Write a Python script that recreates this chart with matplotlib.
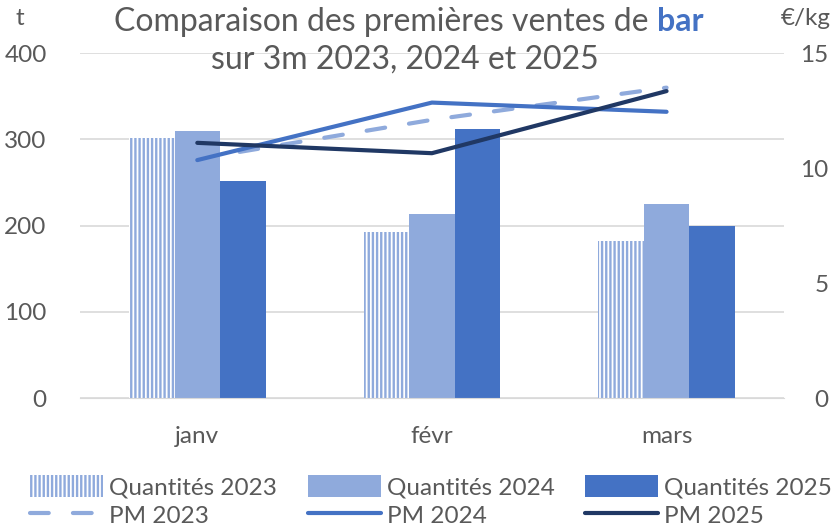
import matplotlib
matplotlib.use("Agg")
import matplotlib.pyplot as plt
import numpy as np

months = ["janv", "févr", "mars"]
q2023 = [302, 193, 182]
q2024 = [310, 213, 225]
q2025 = [252, 312, 200]
pm2023 = [10.4, 12.1, 13.5]
pm2024 = [10.35, 12.85, 12.45]
pm2025 = [11.1, 10.65, 13.35]
left_ticks = [0, 100, 200, 300, 400]
right_ticks = [0, 5, 10, 15]

plt.rcParams['font.family'] = ['Lato', 'DejaVu Sans']
plt.rcParams['hatch.linewidth'] = 1.7
GRAY = '#595959'
C23 = '#8FAADC'
C24 = '#8FAADC'
C25 = '#4472C4'
CPM25 = '#203864'
FS = 17.5

fig = plt.figure(figsize=(8.34, 5.26), dpi=100)
ax = fig.add_axes([0.0959, 0.243, 0.844, 0.656])
ax2 = ax.twinx()

x = np.arange(len(months))
w = 0.194
b1 = ax.bar(x - w, q2023, w, color='white', edgecolor=C23, hatch='||||', linewidth=0, label='Quantités 2023')
b2 = ax.bar(x, q2024, w, color=C24, linewidth=0, label='Quantités 2024')
b3 = ax.bar(x + w, q2025, w, color=C25, linewidth=0, label='Quantités 2025')

l1, = ax2.plot(x, pm2023, color=C23, lw=3, dashes=(4.5, 5.8), dash_capstyle='round', label='PM 2023')
l2, = ax2.plot(x, pm2024, color=C25, lw=3, solid_capstyle='round', label='PM 2024')
l3, = ax2.plot(x, pm2025, color=CPM25, lw=3, solid_capstyle='round', label='PM 2025')

ax.set_xlim(-0.5, 2.5)
ax.set_ylim(0, 400)
ax2.set_ylim(0, 15)
ax.set_yticks(left_ticks)
ax2.set_yticks(right_ticks)
ax.set_xticks(x)
ax.set_xticklabels(months)
ax.yaxis.grid(True, color='#D9D9D9', lw=1.2)
ax.set_axisbelow(True)
for a in (ax, ax2):
    for s in a.spines.values():
        s.set_visible(False)
    a.tick_params(length=0, labelsize=FS, colors=GRAY)
ax.spines['bottom'].set_visible(True)
ax.spines['bottom'].set_color('#D9D9D9')
ax.tick_params(axis='x', pad=20)
ax.tick_params(axis='y', pad=24)
ax2.tick_params(axis='y', pad=32)
for lab in ax2.get_yticklabels():
    lab.set_horizontalalignment('right')

fig.text(0.018, 0.985, 't', fontsize=FS, color=GRAY, ha='left', va='top')
fig.text(0.996, 0.985, '€/kg', fontsize=FS, color=GRAY, ha='right', va='top')

# title
fs = 23
r = fig.canvas.get_renderer()
t1 = fig.text(0, 0, 'Comparaison des premières ventes de ', fontsize=fs, color=GRAY)
t2 = fig.text(0, 0, 'bar', fontsize=fs, color=C25, fontweight='bold')
w1 = t1.get_window_extent(r).width
w2 = t2.get_window_extent(r).width
cx = 409
x0 = cx - (w1 + w2) / 2
yb = 526 - 31
t1.set_position((x0 / 834, yb / 526))
t2.set_position(((x0 + w1) / 834, yb / 526))
fig.text(405 / 834, (526 - 69) / 526, 'sur 3m 2023, 2024 et 2025', fontsize=fs, color=GRAY, ha='center')

handles = [b1, l1, b2, l2, b3, l3]
leg = fig.legend(handles, [h.get_label() for h in handles], ncol=3, loc='lower center',
                 bbox_to_anchor=(0.517, -0.043), frameon=False, fontsize=FS,
                 handlelength=3.0, handleheight=1.0, columnspacing=1.25, handletextpad=0.25,
                 labelspacing=0.2, labelcolor=GRAY)

fig.savefig('out.png', dpi=100)
